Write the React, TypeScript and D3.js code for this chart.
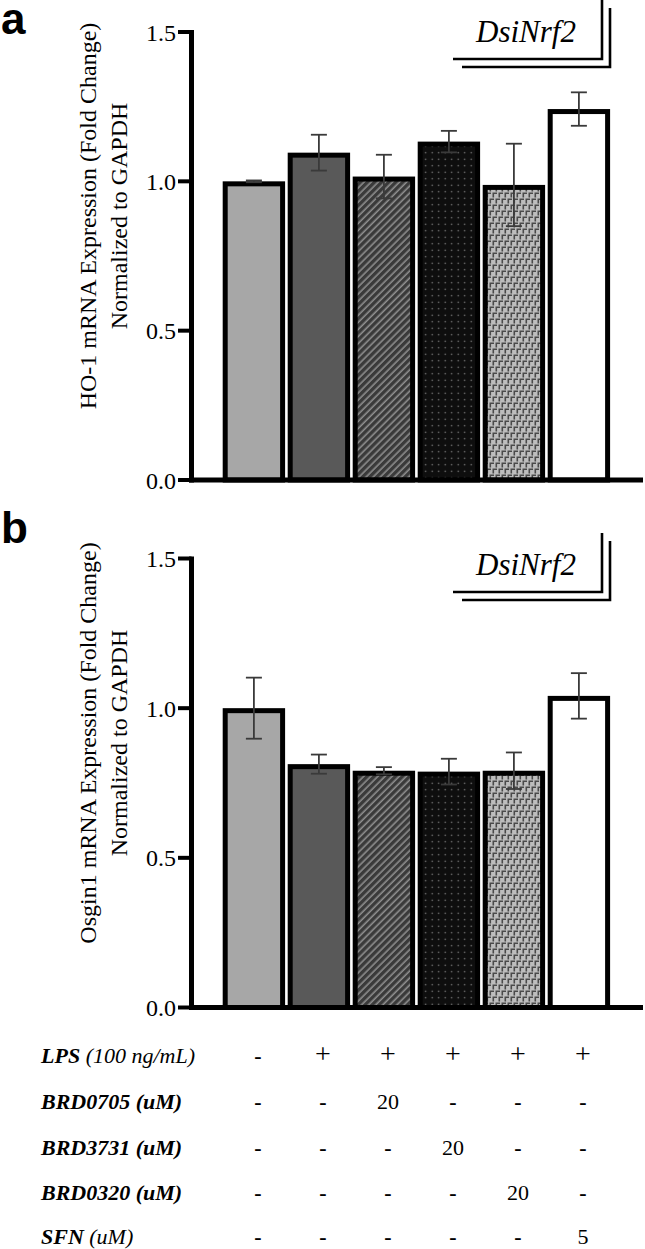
import React from 'react';
import * as d3 from 'd3';

const categories = ['Control', 'LPS', 'LPS+BRD0705', 'LPS+BRD3731', 'LPS+BRD0320', 'LPS+SFN'];
const ho1Mean = [1.0, 1.096, 1.016, 1.133, 0.988, 1.242];
const ho1Sem = [0.003, 0.06, 0.073, 0.036, 0.138, 0.056];
const osgMean = [1.0, 0.813, 0.791, 0.788, 0.791, 1.041];
const osgSem = [0.102, 0.032, 0.012, 0.043, 0.061, 0.076];
const yTicks = [0, 0.5, 1.0, 1.5];
const legendLabel = 'DsiNrf2';

const rowLabels = ['LPS', 'BRD0705', 'BRD3731', 'BRD0320', 'SFN'];
const rowUnits = [' (100 ng/mL)', ' (uM)', ' (uM)', ' (uM)', ' (uM)'];
const rowValues = [
  ['-', '+', '+', '+', '+', '+'],
  ['-', '-', '20', '-', '-', '-'],
  ['-', '-', '-', '20', '-', '-'],
  ['-', '-', '-', '-', '20', '-'],
  ['-', '-', '-', '-', '-', '5'],
];

const barFills = ['#a7a7a7', '#595959', 'url(#hatch)', 'url(#dots)', 'url(#maze)', '#ffffff'];

const SERIF = "'Liberation Serif', 'Times New Roman', serif";

const x = d3.scaleBand<string>().domain(categories).range([222.7, 610.1]).paddingInner(0.04).paddingOuter(0);

interface PanelProps {
  y0: number;
  y15: number;
  means: number[];
  sems: number[];
  labelLines: string[];
  labelCenter: number;
  letter: string;
  letterBaseline: number;
  legendDy: number;
}

function Panel({ y0, y15, means, sems, labelLines, labelCenter, letter, letterBaseline, legendDy }: PanelProps) {
  const y = d3.scaleLinear().domain([0, 1.5]).range([y0, y15]);
  const sw = 5;
  const fmt = d3.format('.1f');
  const axisX = 191.5;
  return (
    <g>
      <text x={1} y={letterBaseline} fontFamily="'Liberation Sans', Arial, sans-serif" fontWeight="bold" fontSize={44}>{letter}</text>
      {/* y label */}
      <g transform={`translate(0, ${labelCenter})`}>
        <text transform="translate(96,0) rotate(-90)" textAnchor="middle" fontFamily={SERIF} fontSize={24}>{labelLines[0]}</text>
        <text transform="translate(127,0) rotate(-90)" textAnchor="middle" fontFamily={SERIF} fontSize={24}>{labelLines[1]}</text>
      </g>
      {/* bars */}
      {categories.map((c, i) => {
        const bx = x(c)!;
        const bw = x.bandwidth();
        const yv = y(means[i]);
        return (
          <rect key={c} x={bx + sw / 2} y={yv + sw / 2} width={bw - sw} height={y(0) - yv - sw / 2}
            fill={barFills[i]} stroke="#000" strokeWidth={sw} />
        );
      })}
      {/* error bars */}
      {categories.map((c, i) => {
        const cx = x(c)! + x.bandwidth() / 2;
        const yt = y(means[i] + sems[i]);
        const yb = y(means[i] - sems[i]);
        return (
          <g key={c} stroke="#3a3a3a" strokeWidth={1.8}>
            <line x1={cx} x2={cx} y1={yt} y2={yb} />
            <line x1={cx - 8} x2={cx + 8} y1={yt} y2={yt} />
            <line x1={cx - 8} x2={cx + 8} y1={yb} y2={yb} />
          </g>
        );
      })}
      {/* x baseline */}
      <line x1={axisX - 2.5} x2={643} y1={y(0)} y2={y(0)} stroke="#000" strokeWidth={5} />
      {/* y axis */}
      <line x1={axisX} x2={axisX} y1={y(1.5) - 2} y2={y(0) + 2.5} stroke="#000" strokeWidth={5} />
      {yTicks.map(t => (
        <g key={t}>
          <line x1={178} x2={axisX} y1={y(t)} y2={y(t)} stroke="#000" strokeWidth={4} />
          <text x={176} y={y(t) + 8.5} textAnchor="end" fontFamily={SERIF} fontSize={24}>{fmt(t)}</text>
        </g>
      ))}
      {/* legend */}
      <g transform={`translate(0, ${legendDy})`}>
        <text x={526} y={42} textAnchor="middle" fontFamily={SERIF} fontStyle="italic" fontSize={31}>{legendLabel}</text>
        <polyline points="453,59 602,59 602,0" fill="none" stroke="#000" strokeWidth={2.6} />
        <polyline points="462,67 610,67 610,8" fill="none" stroke="#000" strokeWidth={2.6} />
      </g>
    </g>
  );
}

export default function App() {
  const rowBaselines = [1063, 1109, 1155, 1200, 1244];
  return (
    <div>
      <style>{`body{margin:0;background:#fff}`}</style>
      <svg width={645} height={1249} style={{ display: 'block' }}>
        <defs>
          <pattern id="hatch" patternUnits="userSpaceOnUse" width={5} height={10} patternTransform="rotate(45)">
            <rect width={5} height={10} fill="#3a3a3a" />
            <line x1={1.2} x2={1.2} y1={0} y2={10} stroke="#8e8e8e" strokeWidth={1.6} />
          </pattern>
          <pattern id="dots" patternUnits="userSpaceOnUse" width={6.5} height={6.5}>
            <rect width={6.5} height={6.5} fill="#0e0e0e" />
            <circle cx={3.2} cy={3.2} r={0.75} fill="#8a8a8a" />
          </pattern>
          <pattern id="maze" patternUnits="userSpaceOnUse" width={6} height={12}>
            <rect width={6} height={12} fill="#bdbdbd" />
            <path d="M0.5,0.5 h4.5 v1.6 h-2.9 v3.4 h-1.6 z" fill="#4a4a4a" />
            <path d="M3.5,6.5 h4.5 v1.6 h-2.9 v3.4 h-1.6 z" fill="#4a4a4a" />
            <path d="M-2.5,6.5 h4.5 v1.6 h-2.9 v3.4 h-1.6 z" fill="#4a4a4a" />
          </pattern>
        </defs>
        <rect width={645} height={1249} fill="#fff" />
        <Panel y0={480} y15={32} means={ho1Mean} sems={ho1Sem}
          labelLines={['HO-1 mRNA Expression (Fold Change)', 'Normalized to GAPDH']}
          labelCenter={216} letter="a" letterBaseline={34} legendDy={0} />
        <Panel y0={1007.5} y15={558.5} means={osgMean} sems={osgSem}
          labelLines={['Osgin1 mRNA Expression (Fold Change)', 'Normalized to GAPDH']}
          labelCenter={743} letter="b" letterBaseline={543} legendDy={533} />
        {/* treatment table */}
        {rowLabels.map((lab, r) => (
          <g key={lab}>
            <text x={41} y={rowBaselines[r]} fontFamily={SERIF} fontStyle="italic" fontSize={22}>
              <tspan fontWeight="bold">{lab}</tspan>
              <tspan fontWeight={r === 0 || r === 4 ? 'normal' : 'bold'}>{rowUnits[r]}</tspan>
            </text>
            {rowValues[r].map((v, i) => (
              <text key={i} x={x(categories[i])! + x.bandwidth() / 2 + 4} y={rowBaselines[r]}
                textAnchor="middle" fontFamily={SERIF} fill="#000"
                fontSize={v === '+' ? 28 : 22} fontWeight={v === '-' ? 'bold' : 'normal'}>{v}</text>
            ))}
          </g>
        ))}
      </svg>
    </div>
  );
}
